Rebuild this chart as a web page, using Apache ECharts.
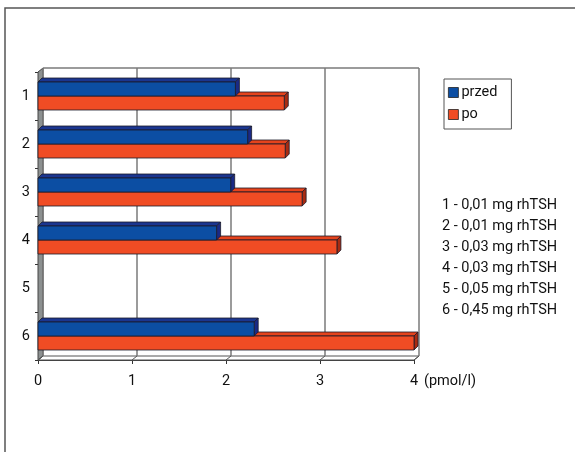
<!DOCTYPE html>
<html>
<head>
<meta charset="utf-8">
<script src="https://cdn.jsdelivr.net/npm/echarts@6/dist/echarts.min.js"></script>
<style>
html,body{margin:0;padding:0;background:#fff;}
#chart{width:575px;height:452px;}
</style>
</head>
<body>
<div id="chart"></div>
<script>
// ---- data ----
const categories = ['1', '2', '3', '4', '5', '6'];
const przed = [2.10, 2.23, 2.05, 1.90, null, 2.30];
const po = [2.62, 2.63, 2.81, 3.18, null, 4.00];
const xTicks = [0, 1, 2, 3, 4];
const doses = ['1 - 0,01 mg rhTSH', '2 - 0,01 mg rhTSH', '3 - 0,03 mg rhTSH',
               '4 - 0,03 mg rhTSH', '5 - 0,05 mg rhTSH', '6 - 0,45 mg rhTSH'];
const seriesNames = ['przed', 'po'];
const unit = '(pmol/l)';

const FONT = "Roboto, 'Liberation Sans', sans-serif";
const FS = 14.5;
const BLUE = '#0c4ea3', BLUE_TOP = '#1b3690', BLUE_SIDE = '#1a2a86';
const RED = '#f04c24', RED_TOP = '#e5431c', RED_SIDE = '#a92b12';
const BAR_H = 14, BD = 4;           // bar thickness and depth
const WDX = 5, WDY = -4;            // wall depth

function barRenderer(upper, cFront, cTop, cSide) {
  return function (params, api) {
    const v = api.value(0);
    if (v == null || isNaN(v)) return;
    const c = api.value(1);
    const p0 = api.coord([0, c]);
    const p1 = api.coord([v, c]);
    const x0 = p0[0], x1 = p1[0];
    const y0 = upper ? p0[1] - BAR_H : p0[1];
    const stroke = {stroke: '#1a1a2a', lineWidth: 0.8};
    return {
      type: 'group',
      children: [
        {type: 'polygon', shape: {points: [[x0, y0], [x0 + BD, y0 - BD], [x1 + BD, y0 - BD], [x1, y0]]},
         style: Object.assign({fill: cTop}, stroke)},
        {type: 'polygon', shape: {points: [[x1, y0], [x1 + BD, y0 - BD], [x1 + BD, y0 + BAR_H - BD], [x1, y0 + BAR_H]]},
         style: Object.assign({fill: cSide}, stroke)},
        {type: 'rect', shape: {x: x0, y: y0, width: x1 - x0, height: BAR_H},
         style: Object.assign({fill: cFront}, stroke)}
      ]
    };
  };
}

function frameRenderer(params, api) {
  const cs = params.coordSys;
  const top = cs.y, bottom = cs.y + cs.height;
  const v = api.value(0);
  const x = api.coord([v, 0])[0];
  const gridStyle = {stroke: '#7a7a7a', lineWidth: 1.5};
  const children = [
    {type: 'line', shape: {x1: x + WDX, y1: top + WDY, x2: x + WDX, y2: bottom + WDY}, style: gridStyle},
    {type: 'line', shape: {x1: x, y1: bottom, x2: x + WDX, y2: bottom + WDY}, style: {stroke: '#555', lineWidth: 1}}
  ];
  if (params.dataIndex === 0) {
    const left = cs.x, right = cs.x + cs.width;
    children.unshift(
      {type: 'polygon', shape: {points: [[left, bottom], [left + WDX, bottom + WDY], [right + WDX, bottom + WDY], [right, bottom]]},
       style: {fill: '#fff', stroke: '#555', lineWidth: 1}},
      {type: 'line', shape: {x1: left + WDX, y1: top + WDY, x2: right + WDX, y2: top + WDY}, style: gridStyle},
      {type: 'polygon', shape: {points: [[left, top], [left + WDX, top + WDY], [left + WDX, bottom + WDY], [left, bottom]]},
       style: {fill: '#8c9090', stroke: '#444', lineWidth: 1}}
    );
  }
  return {type: 'group', children: children};
}

const chart = echarts.init(document.getElementById('chart'), null, {renderer: 'canvas'});
chart.setOption({
  animation: false,
  backgroundColor: '#fff',
  textStyle: {fontFamily: FONT},
  graphic: [{
    type: 'polyline', silent: true,
    shape: {points: [[5, 452], [5, 8], [575, 8]]},
    style: {stroke: '#555', lineWidth: 1.5, fill: null}
  }],
  title: {
    text: doses.join('\n'),
    left: 437, top: 190,
    textStyle: {fontFamily: FONT, fontSize: FS, fontWeight: 'normal', color: '#111', lineHeight: 21}
  },
  legend: {
    data: seriesNames,
    orient: 'vertical',
    left: 444, top: 79,
    icon: 'rect',
    itemWidth: 10, itemHeight: 10, itemGap: 7,
    padding: [6, 14, 7, 4],
    borderColor: '#555', borderWidth: 1,
    itemStyle: {borderColor: '#222', borderWidth: 0.8},
    textStyle: {fontFamily: FONT, fontSize: FS, color: '#111', lineHeight: 15, padding: [0, 0, 0, -2]}
  },
  grid: {left: 38, top: 72, width: 376, height: 288, containLabel: false},
  xAxis: {
    type: 'value', min: 0, max: 4, interval: 1,
    name: unit, nameLocation: 'end', nameGap: 6,
    nameTextStyle: {fontFamily: FONT, fontSize: FS, color: '#111', verticalAlign: 'top', align: 'left', padding: [14, 0, 0, 0]},
    axisLine: {show: true, lineStyle: {color: '#333', width: 1}},
    axisTick: {show: true, length: 4, lineStyle: {color: '#333'}},
    axisLabel: {fontFamily: FONT, fontSize: FS, color: '#111', margin: 14},
    splitLine: {show: false}
  },
  yAxis: {
    type: 'category', data: categories, inverse: true,
    axisLine: {show: true, lineStyle: {color: '#333', width: 1}},
    axisTick: {show: true, length: 3, lineStyle: {color: '#333'}},
    axisLabel: {fontFamily: FONT, fontSize: FS, color: '#111', margin: 8},
    splitLine: {show: false}
  },
  series: [
    {
      type: 'custom', name: 'frame', silent: true, z: 1,
      renderItem: frameRenderer,
      data: xTicks.map(function (t) { return [t, 0]; }),
      encode: {x: 0, y: 1}
    },
    {
      type: 'custom', name: seriesNames[0], z: 4,
      itemStyle: {color: BLUE},
      renderItem: barRenderer(true, BLUE, BLUE_TOP, BLUE_SIDE),
      data: przed.map(function (v, i) { return [v, i]; }),
      encode: {x: 0, y: 1}
    },
    {
      type: 'custom', name: seriesNames[1], z: 3,
      itemStyle: {color: RED},
      renderItem: barRenderer(false, RED, RED_TOP, RED_SIDE),
      data: po.map(function (v, i) { return [v, i]; }),
      encode: {x: 0, y: 1}
    }
  ]
});
</script>
</body>
</html>
